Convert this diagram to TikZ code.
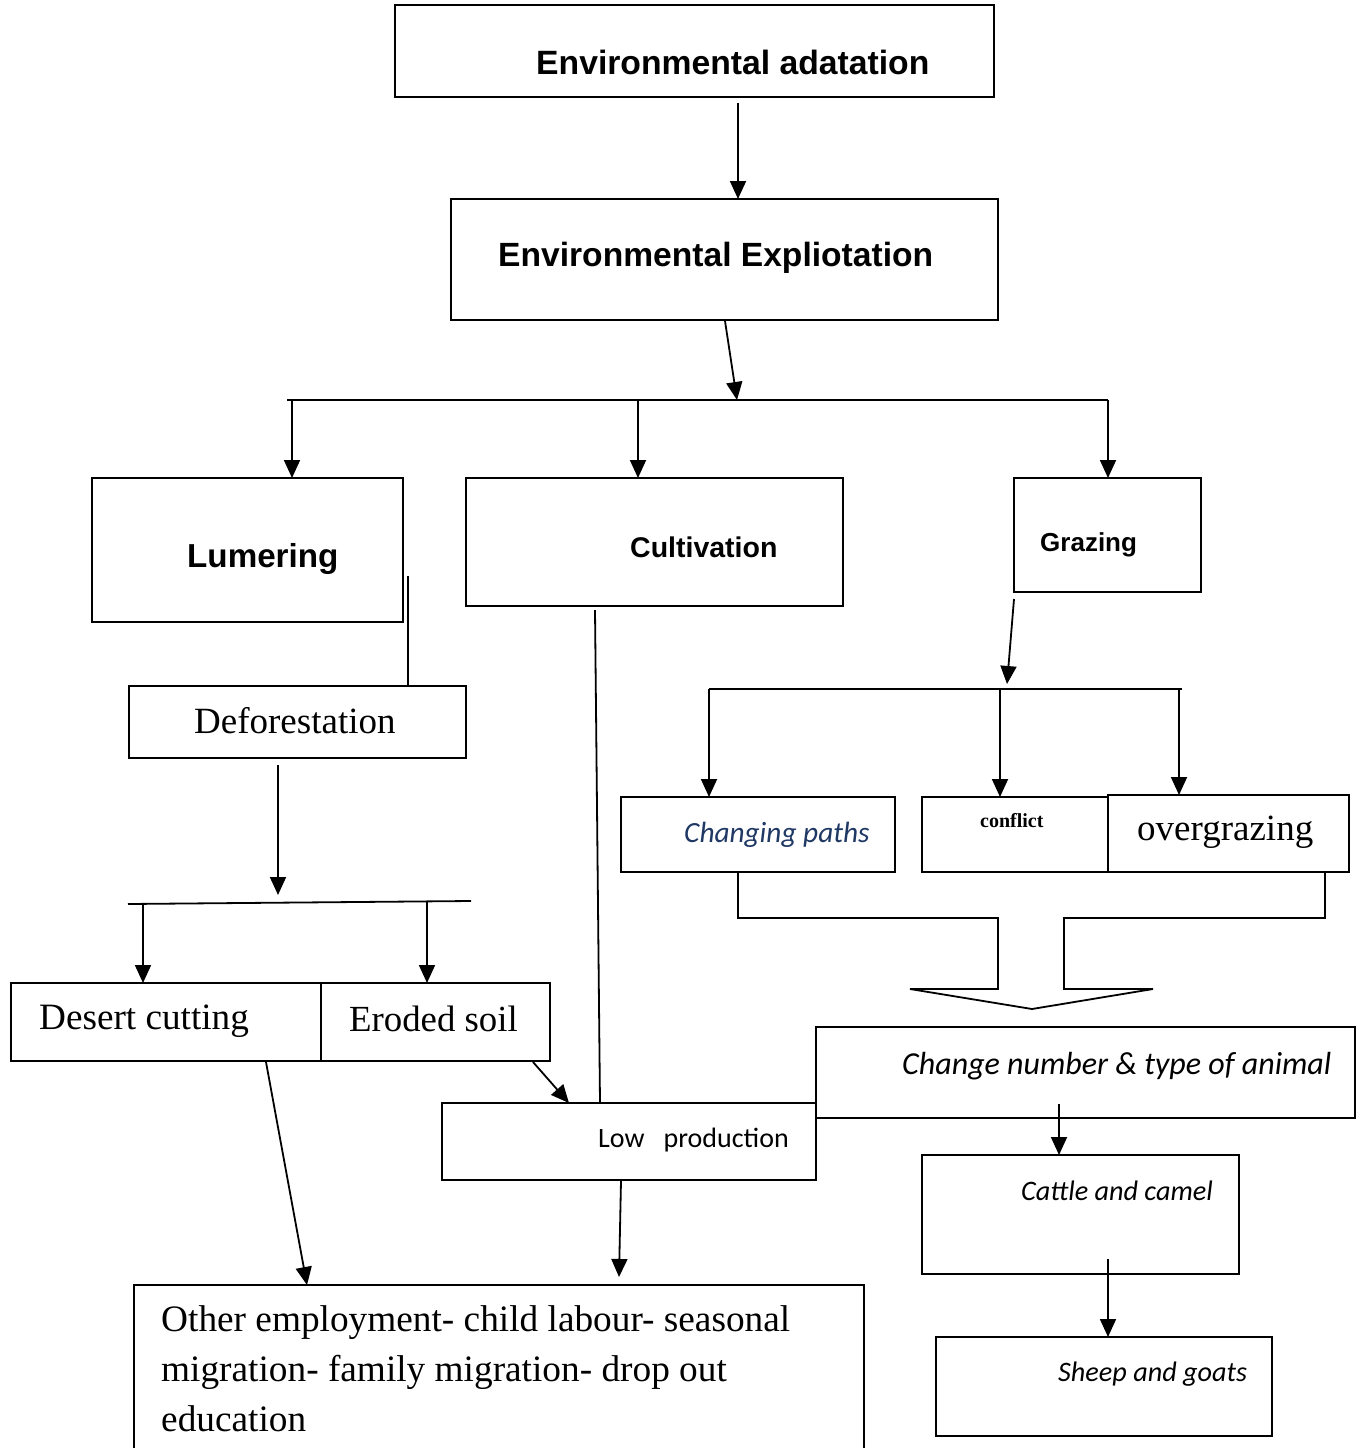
\documentclass[tikz,border=0pt]{standalone}
\usepackage{fontspec}
\setmainfont{Liberation Serif}
\newfontfamily\arialf{Liberation Sans}
\newfontfamily\calib{Carlito}
\usetikzlibrary{arrows.meta}
\definecolor{pathblue}{RGB}{31,56,100}
\begin{document}
\begin{tikzpicture}[x=1pt,y=-1pt,
  box/.style={draw, line width=2pt, inner sep=0pt, outer sep=0pt, anchor=north west},
  con/.style={line width=1.8pt},
  arr/.style={con, -{Triangle[length=18pt,width=16pt]}},
  lbl/.style={inner sep=0pt, anchor=west},
  hb/.style={font=\arialf\bfseries\fontsize{#1}{#1}\selectfont},
  sr/.style={font=\fontsize{#1}{#1}\selectfont},
  ci/.style={font=\calib\itshape\fontsize{#1}{#1}\selectfont}]
\useasboundingbox (0,0) rectangle (1357,1448);
\clip (0,0) rectangle (1357,1448);
\fill[white] (0,0) rectangle (1357,1448);

% boxes
\node[box, minimum width=599pt, minimum height=92pt] (A) at (395,5) {};
\node[box, minimum width=547pt, minimum height=121pt] (B) at (451,199) {};
\node[box, minimum width=311pt, minimum height=144pt] (Lum) at (92,478) {};
\node[box, minimum width=377pt, minimum height=128pt] (Cul) at (466,478) {};
\node[box, minimum width=187pt, minimum height=114pt] (Gra) at (1014,478) {};
\node[box, minimum width=337pt, minimum height=72pt] (Def) at (129,686) {};
\node[box, minimum width=344pt, minimum height=78pt] (Des) at (11,983) {};
\node[box, minimum width=229pt, minimum height=78pt, fill=white] (Ero) at (321,983) {};
\node[box, minimum width=374pt, minimum height=77pt] (Low) at (442,1103) {};
\node[box, minimum width=730pt, minimum height=220pt] (Oth) at (134,1285) {};
\node[box, minimum width=274pt, minimum height=75pt] (Chg) at (621,797) {};
\node[box, minimum width=186pt, minimum height=75pt] (Con) at (922,797) {};
\node[box, minimum width=241pt, minimum height=77pt, fill=white] (Ovg) at (1108,795) {};
\node[box, minimum width=539pt, minimum height=91pt] (Num) at (816,1027) {};
\node[box, minimum width=317pt, minimum height=119pt] (Cat) at (922,1155) {};
\node[box, minimum width=336pt, minimum height=99pt] (She) at (936,1337) {};

% texts
\node[lbl, hb=33.7] (tA) at (536,62) {Environmental adatation};
\node[lbl, hb=33.6] (tB) at (498,258) {Environmental Expliotation};
\node[lbl, hb=33.2] (tLum) at (187,559) {Lumering};
\node[lbl, hb=28.5] (tCul) at (630,547) {Cultivation};
\node[lbl, hb=26] (tGra) at (1040,545) {Grazing};
\node[lbl, sr=37] (tDef) at (194,721) {Deforestation};
\node[lbl, sr=37.2] (tDes) at (39,1021) {Desert cutting};
\node[lbl, sr=36.8] (tEro) at (349,1019) {Eroded soil};
\node[lbl, font=\calib\fontsize{28}{28}\selectfont] (tLow) at (598,1140) {Low\ \ \ production};
\node[inner sep=0pt, anchor=north west, align=left, font=\fontsize{37.3}{50}\selectfont] (tOth) at (161,1305)
  {Other employment- child labour- seasonal\\migration- family migration- drop out\\education};
\node[lbl, ci=29.3, text=pathblue] (tChg) at (684,835) {Changing paths};
\node[lbl, font=\bfseries\fontsize{20}{20}\selectfont] (tCon) at (980,821) {conflict};
\node[lbl, sr=37] (tOvg) at (1137,832) {overgrazing};
\node[lbl, ci=32] (tNum) at (902,1066) {Change number \& type of animal};
\node[lbl, ci=28.2] (tCat) at (1021,1191) {Cattle and camel};
\node[lbl, ci=28.2] (tShe) at (1058,1374) {Sheep and goats};

% connector points
\coordinate (ab1) at (738,103);
\coordinate (bb1) at (725,321);
\coordinate (bus1) at (737,400);
\coordinate (bus1L) at (287,400);
\coordinate (bus1R) at (1108,400);
\coordinate (bus1a) at (292,400);
\coordinate (bus1b) at (638,400);
\coordinate (lum1) at (408,576);
\coordinate (def1) at (278,765);
\coordinate (bus2m) at (278,895);
\coordinate (bus2L) at (128,904);
\coordinate (bus2R) at (471,901);
\coordinate (bus2a) at (143,904);
\coordinate (bus2b) at (427,902);
\coordinate (des1) at (266,1062);
\coordinate (ero1) at (533,1062);
\coordinate (cul1) at (595,610);
\coordinate (low1) at (621,1181);
\coordinate (gra1) at (1014,599);
\coordinate (bus3m) at (1007,684);
\coordinate (bus3L) at (709,689);
\coordinate (bus3R) at (1182,689);
\coordinate (bus3b) at (1000,689);
\coordinate (bus3c) at (1179,689);
\coordinate (num1) at (1059,1104);
\coordinate (cat1) at (1108,1259);

% connectors
\draw[arr] (ab1) -- (B.north -| ab1);
\draw[arr] (bb1) -- (bus1);
\draw[con] (bus1L) -- (bus1R);
\draw[arr] (bus1a) -- (Lum.north -| bus1a);
\draw[arr] (bus1b) -- (Cul.north -| bus1b);
\draw[arr] (bus1R) -- (Gra.north -| bus1R);
\draw[con] (lum1) -- (Def.north -| lum1);
\draw[arr] (def1) -- (bus2m);
\draw[con] (bus2L) -- (bus2R);
\draw[arr] (bus2a) -- (Des.north -| bus2a);
\draw[arr] (bus2b) -- (Ero.north -| bus2b);
\draw[arr] (des1) -- (307,1285);
\draw[arr] (ero1) -- (569,1103);
\draw[con] (cul1) -- (600,1103);
\draw[arr] (low1) -- (619,1277);
\draw[arr] (gra1) -- (bus3m);
\draw[con] (bus3L) -- (bus3R);
\draw[arr] (bus3L) -- (Chg.north -| bus3L);
\draw[arr] (bus3b) -- (Con.north -| bus3b);
\draw[arr] (bus3c) -- (Ovg.north -| bus3c);
\draw[arr] (num1) -- (Cat.north -| num1);
\draw[arr] (cat1) -- (She.north -| cat1);

% block arrow merging into Change number box
\draw[line width=1.8pt, line join=miter] (Chg.south -| 738,0) -- (738,918) -- (998,918) -- (998,989) -- (910,989)
  -- (1032,1009) -- (1153,989) -- (1064,989) -- (1064,918) -- (1325,918) -- (Ovg.south -| 1325,0);
\end{tikzpicture}
\end{document}
